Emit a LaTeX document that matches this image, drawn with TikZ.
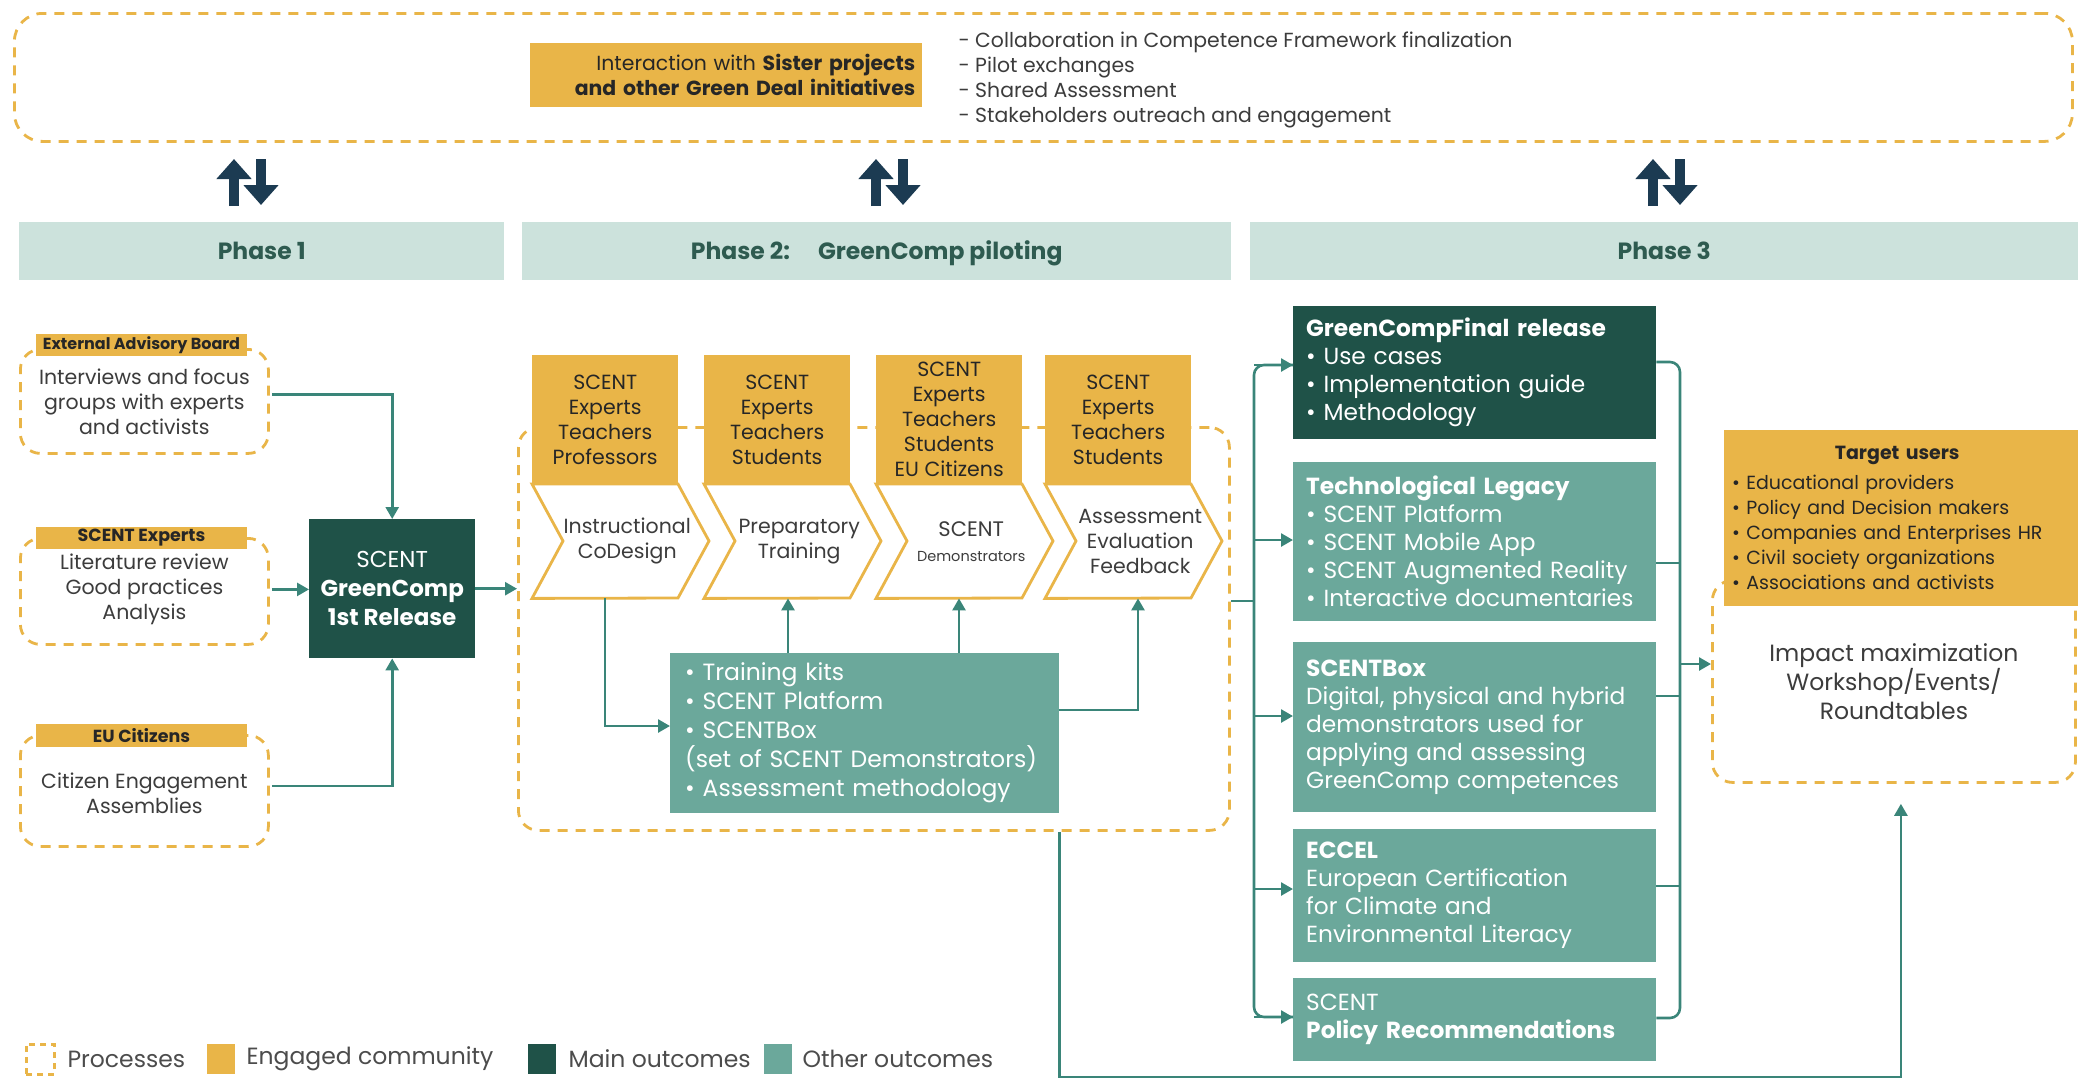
\documentclass[tikz,border=0pt]{standalone}
\usepackage{fontspec}
\setmainfont{Poppins}
\usetikzlibrary{arrows.meta,calc}
\definecolor{orng}{HTML}{E9B548}
\definecolor{dkg}{HTML}{1F5248}
\definecolor{tealc}{HTML}{6BA89B}
\definecolor{phbar}{HTML}{CCE2DC}
\definecolor{navy}{HTML}{1C3B52}
\definecolor{connc}{HTML}{3A8579}
\definecolor{txt}{HTML}{3C3C3C}
\definecolor{phtxt}{HTML}{2E5B50}
\newcommand\myfs[2]{\fontsize{#1}{#2}\selectfont}
\begin{document}
\begin{tikzpicture}[x=1pt,y=-1pt,
  every node/.style={text=txt},
  proc/.style={draw=orng, line width=2.8pt, dash pattern=on 10pt off 8pt, rounded corners=20pt, fill=white},
  eng/.style={fill=orng, inner sep=0pt, text=black!85},
  mainout/.style={fill=dkg, text=white, inner sep=0pt},
  otherout/.style={fill=tealc, text=white, inner sep=0pt},
  phase/.style={fill=phbar, text=phtxt, font=\myfs{23.5}{27}\bfseries, inner sep=0pt, minimum height=58pt, anchor=north west, text height=19pt, text depth=2pt},
  link/.style={draw=connc, line width=2.6pt},
  conn/.style={link, -{Triangle[length=12pt,width=13pt]}},
  updown/.style={draw=navy, line width=10pt, -{Triangle[length=20pt,width=34pt]}},
  chev/.style={minimum width=190pt, minimum height=114pt, anchor=north west, inner sep=0pt, align=center, font=\myfs{20.5}{25}},
  chevline/.style={draw=orng, line width=2.8pt, line join=miter},
  topeng/.style={eng, minimum width=146pt, minimum height=129pt, anchor=north west, align=center, font=\myfs{20.5}{25}},
  p3box/.style={minimum width=363pt, anchor=north west, text width=337pt, align=left, font=\myfs{23.3}{28}},
  lgsq/.style={minimum width=28pt, minimum height=30pt, inner sep=0pt},
  lgtext/.style={anchor=west, font=\myfs{23.5}{28}, text=black!70}
]
\useasboundingbox (0,0) rectangle (2080,1080);

% ---------- top band ----------
\node[proc, rounded corners=28pt, minimum width=2058pt, minimum height=128pt, anchor=north west] (top) at (13,12) {};
\node[eng, minimum width=392pt, minimum height=64pt, anchor=north west, text width=378pt, align=right, font=\myfs{20.4}{25}] (sis) at (530,43)
  {Interaction with \textbf{Sister projects}\\\textbf{and other Green Deal initiatives}};
\node[anchor=west, align=left, font=\myfs{20.4}{24.7}] (acts) at (955,80)
  {- Collaboration in Competence Framework finalization\\- Pilot exchanges\\- Shared Assessment\\- Stakeholders outreach and engagement};

% ---------- up/down arrows ----------
\coordinate (u1a) at (234,206); \coordinate (u1b) at (234,159);
\coordinate (d1a) at (261,159); \coordinate (d1b) at (261,205);
\coordinate (u2a) at (876,206); \coordinate (u2b) at (876,159);
\coordinate (d2a) at (903,159); \coordinate (d2b) at (903,205);
\coordinate (u3a) at (1653,206); \coordinate (u3b) at (1653,159);
\coordinate (d3a) at (1680,159); \coordinate (d3b) at (1680,205);
\draw[updown] (u1a) -- (u1b); \draw[updown] (d1a) -- (d1b);
\draw[updown] (u2a) -- (u2b); \draw[updown] (d2a) -- (d2b);
\draw[updown] (u3a) -- (u3b); \draw[updown] (d3a) -- (d3b);

% ---------- phase bars ----------
\node[phase, minimum width=485pt] (ph1) at (19,222) {Phase 1};
\node[phase, minimum width=709pt] (ph2) at (522,222) {Phase 2:\hspace{28pt}GreenComp piloting};
\node[phase, minimum width=828pt] (ph3) at (1250,222) {Phase 3};

% ---------- phase 1 ----------
\node[proc, minimum width=248pt, minimum height=104pt, anchor=north west, align=center, font=\myfs{20.5}{25}] (ext) at (19,348)
  {Interviews and focus\\groups with experts\\and activists};
\node[eng, minimum width=211pt, minimum height=22pt, font=\myfs{16}{18}\bfseries] (extl) at (141.5,345) {External Advisory Board};
\node[proc, minimum width=248pt, minimum height=106pt, anchor=north west, align=center, font=\myfs{20.5}{25}] (sexp) at (19,537)
  {\\[-14pt]Literature review\\Good practices\\Analysis};
\node[eng, minimum width=211pt, minimum height=22pt, font=\myfs{17.5}{19}\bfseries] (sexpl) at (141.5,538) {SCENT Experts};
\node[proc, minimum width=248pt, minimum height=111pt, anchor=north west, align=center, font=\myfs{20.5}{25}] (eu) at (19,734)
  {\\[-4pt]Citizen Engagement\\Assemblies};
\node[eng, minimum width=211pt, minimum height=23pt, font=\myfs{17.5}{19}\bfseries] (eul) at (141.5,735.5) {EU Citizens};
\node[mainout, minimum width=166pt, minimum height=139pt, anchor=north west, align=center, font=\myfs{23}{29}] (rel1) at (309,519)
  {SCENT\\\textbf{GreenComp}\\\textbf{1st Release}};

% ---------- phase 2 ----------
\node[proc, minimum width=711pt, minimum height=403pt, anchor=north west] (p2) at (517,426) {};
\node[topeng] (o1) at (532,355) {SCENT\\Experts\\Teachers\\Professors};
\node[topeng] (o2) at (704,355) {SCENT\\Experts\\Teachers\\Students};
\node[topeng] (o3) at (876,355) {SCENT\\Experts\\Teachers\\Students\\EU Citizens};
\node[topeng] (o4) at (1045,355) {SCENT\\Experts\\Teachers\\Students};
\node[chev] (c1) at (532,484) {Instructional\\CoDesign};
\node[chev] (c2) at (704,484) {Preparatory\\Training};
\node[chev] (c3) at (876,484) {{\myfs{21}{22}SCENT}\\{\myfs{14.5}{18}Demonstrators}};
\node[chev] (c4) at (1045,484) {Assessment\\Evaluation\\Feedback};
\foreach \c in {c1,c2,c3,c4}{
  \draw[chevline] (\c.north west) -- ($(\c.north west)+(146,0)$) -- ($(\c.north west)+(177,57)$) -- ($(\c.north west)+(146,114)$)
    -- (\c.south west) -- ($(\c.north west)+(31,57)$) -- cycle;
}
\node[otherout, minimum width=389pt, minimum height=160pt, anchor=north west, text width=359pt, align=left, font=\myfs{23.5}{29}] (tb) at (670,653)
  {• Training kits\\• SCENT Platform\\• SCENTBox\\(set of SCENT Demonstrators)\\• Assessment methodology};

% ---------- phase 3 ----------
\node[p3box, mainout, minimum height=133pt] (r1) at (1293,306)
  {\textbf{GreenCompFinal release}\\• Use cases\\• Implementation guide\\• Methodology};
\node[p3box, otherout, minimum height=159pt] (r2) at (1293,462)
  {\textbf{Technological Legacy}\\• SCENT Platform\\• SCENT Mobile App\\• SCENT Augmented Reality\\• Interactive documentaries};
\node[p3box, otherout, minimum height=170pt] (r3) at (1293,642)
  {\textbf{SCENTBox}\\Digital, physical and hybrid\\demonstrators used for\\applying and assessing\\GreenComp competences};
\node[p3box, otherout, minimum height=133pt] (r4) at (1293,829)
  {\textbf{ECCEL}\\European Certification\\for Climate and\\Environmental Literacy};
\node[p3box, otherout, minimum height=83pt] (r5) at (1293,978)
  {SCENT\\\textbf{Policy Recommendations}};

\node[proc, minimum width=363pt, minimum height=202pt, anchor=north west, align=center, font=\myfs{23.5}{29}] (imp) at (1711,579)
  {Impact maximization\\Workshop/Events/\\Roundtables};
\node[eng, minimum width=354pt, minimum height=176pt, anchor=north west, text width=338pt, align=left, font=\myfs{19}{25}] (tgt) at (1724,430)
  {\makebox[330pt][c]{\textbf{Target users}}\\[5pt]• Educational providers\\• Policy and Decision makers\\• Companies and Enterprises HR\\• Civil society organizations\\• Associations and activists};

% ---------- connectors phase 1 ----------
\coordinate (e1) at ($(ext.east)+(2,-7)$);
\coordinate (e2) at ($(sexp.east)+(2,-2)$);
\coordinate (e3) at ($(eu.east)+(2,-5)$);
\draw[conn] (e1) -| (rel1.north);
\draw[conn] (e2) -- (e2 -| rel1.west);
\draw[conn] (e3) -| (rel1.south);
\draw[conn] (rel1.east) -- (rel1.east -| p2.west);

% ---------- connectors phase 2 ----------
\coordinate (c1b) at ($(c1.south west)+(73,0)$);
\coordinate (c2b) at ($(c2.south west)+(84,0)$);
\coordinate (c3b) at ($(c3.south west)+(83,0)$);
\coordinate (c4b) at ($(c4.south west)+(93,0)$);
\coordinate (tbin) at ($(tb.north west)+(0,73)$);
\coordinate (tbout) at ($(tb.north east)+(0,57)$);
\draw[conn] (c1b) |- (tbin);
\draw[conn] (tb.north -| c2b) -- (c2b);
\draw[conn] (tb.north -| c3b) -- (c3b);
\draw[conn] (tbout) -| (c4b);
\coordinate (bot) at (0,1077);
\coordinate (impin) at ($(imp.south)+(7,0)$);
\draw[conn, shorten >=20pt] (tb.east |- p2.south) -- (tb.east |- bot) -| (impin);

% ---------- connectors phase 3 ----------
\coordinate (busL) at (1254,0);
\coordinate (busR) at (1680,0);
\coordinate (p2o) at ($(p2.north east)+(0,175)$);
\draw[link] (p2o) -- (p2o -| busL);
\coordinate (a1) at ($(r1.north west)+(0,59)$);
\coordinate (a2) at ($(r2.north west)+(0,78)$);
\coordinate (a3) at ($(r3.north west)+(0,74)$);
\coordinate (a4) at ($(r4.north west)+(0,60)$);
\coordinate (a5) at ($(r5.north west)+(0,39)$);
\draw[link, rounded corners=10pt] (a1) -- (a1 -| busL) -- (a5 -| busL) -- (a5);
\foreach \a in {a1,a2,a3,a4,a5}{ \draw[conn] (\a -| busL) -- (\a); }
\coordinate (b1) at ($(r1.north east)+(0,56)$);
\coordinate (b2) at ($(r2.north east)+(0,101)$);
\coordinate (b3) at ($(r3.north east)+(0,54)$);
\coordinate (b4) at ($(r4.north east)+(0,57)$);
\coordinate (b5) at ($(r5.north east)+(0,40)$);
\draw[link, rounded corners=10pt] (b1) -- (b1 -| busR) -- (b5 -| busR) -- (b5);
\foreach \b in {b2,b3,b4}{ \draw[link] (\b) -- (\b -| busR); }
\coordinate (ia) at ($(imp.north west)+(0,85)$);
\draw[conn] (ia -| busR) -- (ia);

% ---------- legend ----------
\node[lgsq, draw=orng, line width=3pt, dash pattern=on 6pt off 5pt] (lg1) at (40,1059) {};
\node[lgtext] (lg1t) at (64,1059) {Processes};
\node[lgsq, fill=orng] (lg2) at (221,1059) {};
\node[lgtext] (lg2t) at (243,1059) {Engaged community};
\node[lgsq, fill=dkg] (lg3) at (542,1059) {};
\node[lgtext] (lg3t) at (565,1059) {Main outcomes};
\node[lgsq, fill=tealc] (lg4) at (778,1059) {};
\node[lgtext] (lg4t) at (799,1059) {Other outcomes};
\end{tikzpicture}
\end{document}
